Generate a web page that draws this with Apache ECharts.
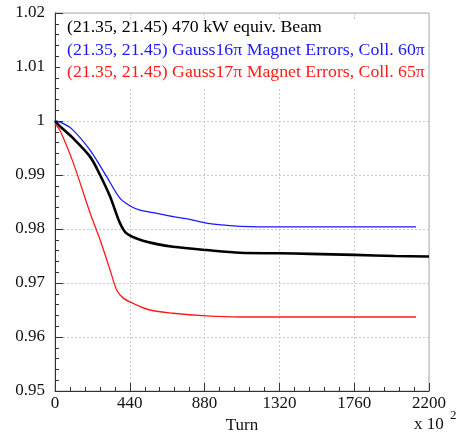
<!DOCTYPE html>
<html><head><meta charset="utf-8">
<script src="https://cdn.jsdelivr.net/npm/echarts@6/dist/echarts.min.js"></script>
<style>html,body{margin:0;padding:0;background:#fff}#c{width:460px;height:433px}</style>
</head><body><div id="c"></div>
<script>
const seriesNames = [
  "(21.35, 21.45) 470 kW equiv. Beam",
  "(21.35, 21.45) Gauss16\u03c0 Magnet Errors, Coll. 60\u03c0",
  "(21.35, 21.45) Gauss17\u03c0 Magnet Errors, Coll. 65\u03c0"
];
const seriesColors = ["#000000", "#1a1aff", "#ff1a1a"];
const blackTurns = [0, 30, 100, 206, 265, 324, 382, 420, 500, 600, 694, 892, 1088, 1320, 1500, 1760, 2000, 2200];
const blackVals  = [1.0, 0.9990, 0.9970, 0.9934, 0.9900, 0.9860, 0.9811, 0.9792, 0.9780, 0.9772, 0.9767, 0.9761, 0.9756, 0.9755, 0.9754, 0.9752, 0.9750, 0.9749];
const blueTurns = [0, 30, 100, 206, 304, 382, 440, 500, 600, 694, 794, 892, 1000, 1088, 1320, 1760, 2124];
const blueVals  = [1.0, 0.9998, 0.9985, 0.9946, 0.9897, 0.9857, 0.9843, 0.9835, 0.9829, 0.9823, 0.9818, 0.9811, 0.9807, 0.9805, 0.9804, 0.9804, 0.9804];
const redTurns = [0, 29, 108, 206, 265, 324, 363, 402, 461, 559, 694, 892, 1088, 1320, 1760, 2124];
const redVals  = [0.9995, 0.9983, 0.9922, 0.9830, 0.9780, 0.9724, 0.9687, 0.9672, 0.9662, 0.9650, 0.9644, 0.9639, 0.9637, 0.9637, 0.9637, 0.9637];
const xTicks = [0, 440, 880, 1320, 1760, 2200];
const yTicks = [0.95, 0.96, 0.97, 0.98, 0.99, 1, 1.01, 1.02];

const zip = (a, b) => a.map((t, i) => [t, b[i]]);
const font = "'Liberation Serif', 'DejaVu Serif', serif";
const chart = echarts.init(document.getElementById('c'));
const legendLines = seriesNames.map((n, i) => ({
  type: 'text', x: 67, y: [20, 43, 65][i], scaleX: 1.11, z: 10,
  style: { text: n, font: '16px ' + font, fill: seriesColors[i] }
}));
chart.setOption({
  animation: false,
  backgroundColor: '#fff',
  grid: { left: 55, right: 31, top: 13, bottom: 42, show: true, borderColor: '#aaa', borderWidth: 1,
    containLabel: false, outerBoundsMode: 'none' },
  xAxis: {
    type: 'value', min: xTicks[0], max: xTicks[xTicks.length - 1], interval: 440,
    axisLine: { show: true, onZero: false, lineStyle: { color: '#333', width: 1 } },
    axisTick: { show: true, inside: true, length: 8, lineStyle: { color: '#333' } },
    minorTick: { show: true, splitNumber: 5, length: 4, lineStyle: { color: '#333' } },
    splitLine: { show: true, lineStyle: { color: '#c8c8c8', type: [2, 2] } },
    axisLabel: { color: '#111', fontFamily: font, fontSize: 17, margin: 4, formatter: v => String(v) },
    name: 'Turn', nameLocation: 'middle', nameGap: 22,
    nameTextStyle: { color: '#111', fontFamily: font, fontSize: 17 }
  },
  yAxis: {
    type: 'value', min: 0.95, max: 1.02, interval: 0.01,
    axisLine: { show: true, onZero: false, lineStyle: { color: '#333', width: 1 } },
    axisTick: { show: true, inside: true, length: 8, lineStyle: { color: '#333' } },
    minorTick: { show: true, splitNumber: 5, length: 4, lineStyle: { color: '#333' } },
    splitLine: { show: true, lineStyle: { color: '#c8c8c8', type: [2, 2] } },
    axisLabel: { color: '#111', fontFamily: font, fontSize: 17, margin: 10,
      formatter: v => String(+v.toFixed(2)) }
  },
  graphic: [
    { type: 'rect', shape: { x: 60, y: 19, width: 368, height: 68 }, style: { fill: '#fff' }, z: 5 },
    { type: 'text', x: 414, y: 416, style: { text: 'x 10', font: '17px ' + font, fill: '#111' } },
    { type: 'text', x: 450, y: 409, style: { text: '2', font: '13px ' + font, fill: '#111' } }
  ].concat(legendLines),
  series: [
    { name: seriesNames[1], type: 'line', data: zip(blueTurns, blueVals), smooth: 0.3, showSymbol: false,
      lineStyle: { color: seriesColors[1], width: 1.3 } },
    { name: seriesNames[2], type: 'line', data: zip(redTurns, redVals), smooth: 0.3, showSymbol: false,
      lineStyle: { color: seriesColors[2], width: 1.3 } },
    { name: seriesNames[0], type: 'line', data: zip(blackTurns, blackVals), smooth: 0.3, showSymbol: false,
      lineStyle: { color: seriesColors[0], width: 2.6 } }
  ]
});
</script></body></html>
